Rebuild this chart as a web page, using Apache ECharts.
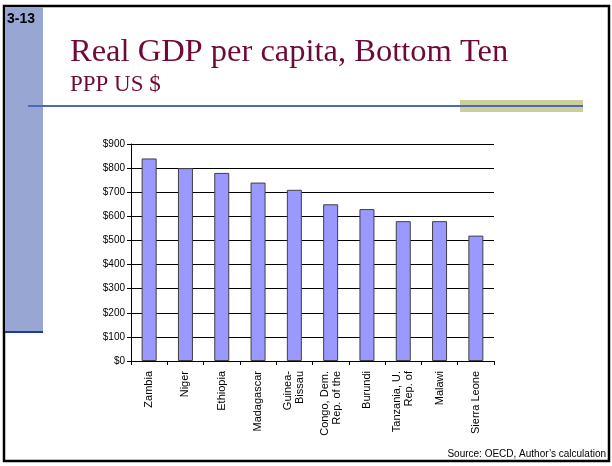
<!DOCTYPE html>
<html>
<head>
<meta charset="utf-8">
<script src="https://cdn.jsdelivr.net/npm/echarts@6/dist/echarts.min.js"></script>
<style>
html,body{margin:0;padding:0;background:#fff;}
#chart{width:612px;height:466px;}
</style>
</head>
<body>
<div id="chart"></div>
<script>
var categories = ['Zambia', 'Niger', 'Ethiopia', 'Madagascar', 'Guinea-\nBissau', 'Congo, Dem.\nRep. of the', 'Burundi', 'Tanzania, U.\nRep. of', 'Malawi', 'Sierra Leone'];
var gdpValues = [840, 800, 780, 740, 710, 650, 630, 580, 580, 520];
var yTicks = { min: 0, max: 900, interval: 100 };
var slideNumber = '3-13';
var titleText = 'Real GDP per capita, Bottom Ten';
var subtitleText = 'PPP US $';
var sourceText = 'Source: OECD, Author\u2019s calculation';

var chart = echarts.init(document.getElementById('chart'), null, { renderer: 'canvas' });
var option = {
  backgroundColor: '#ffffff',
  animation: false,
  grid: { left: 131, top: 144, width: 363, height: 217, containLabel: false },
  xAxis: {
    type: 'category',
    data: categories,
    axisLine: { show: true, lineStyle: { color: '#000', width: 1 } },
    axisTick: { show: true, length: 4, lineStyle: { color: '#000', width: 1 } },
    axisLabel: {
      rotate: 90, margin: 10, interval: 0,
      color: '#000', fontFamily: 'Liberation Sans, Arial, sans-serif', fontSize: 11, lineHeight: 12
    },
    splitLine: { show: false }
  },
  yAxis: {
    type: 'value',
    min: yTicks.min, max: yTicks.max, interval: yTicks.interval,
    axisLine: { show: true, lineStyle: { color: '#000', width: 1 } },
    axisTick: { show: true, length: 4, lineStyle: { color: '#000', width: 1 } },
    axisLabel: {
      margin: 6, color: '#000', fontFamily: 'Liberation Sans, Arial, sans-serif', fontSize: 10,
      formatter: function (v) { return '$' + v; }
    },
    splitLine: { show: true, lineStyle: { color: '#000', width: 1 } }
  },
  series: [{
    type: 'bar',
    data: gdpValues,
    barWidth: 15,
    itemStyle: { color: '#9999ff', borderColor: '#404040', borderWidth: 1 }
  }],
  graphic: [
    { type: 'rect', z: 1, shape: { x: 4, y: 6, width: 605, height: 455 }, style: { fill: 'none', stroke: '#000', lineWidth: 2.5 } },
    { type: 'rect', z: 2, shape: { x: 5, y: 7, width: 38, height: 324 }, style: { fill: '#97a6d2' } },
    { type: 'rect', z: 2, shape: { x: 5, y: 331, width: 38, height: 2 }, style: { fill: '#1f3a9e' } },
    { type: 'text', z: 3, left: 7, top: 12, style: { text: slideNumber, fill: '#000', font: 'bold 14px "Liberation Sans", Arial, sans-serif' } },
    { type: 'text', z: 3, left: 70, top: 36, style: { text: titleText, fill: '#6f0a38', font: '32.5px "Liberation Serif", "Times New Roman", serif' } },
    { type: 'text', z: 3, left: 70, top: 73, style: { text: subtitleText, fill: '#6f0a38', font: '23px "Liberation Serif", "Times New Roman", serif' } },
    { type: 'rect', z: 2, shape: { x: 460, y: 100, width: 123, height: 12 }, style: { fill: '#cccf99' } },
    { type: 'rect', z: 3, shape: { x: 28, y: 105, width: 555, height: 2 }, style: { fill: '#4d68b8' } },
    { type: 'text', z: 3, right: 6, top: 449, style: { text: sourceText, fill: '#000', font: '10px "Liberation Sans", Arial, sans-serif' } }
  ]
};
chart.setOption(option);
</script>
</body>
</html>
